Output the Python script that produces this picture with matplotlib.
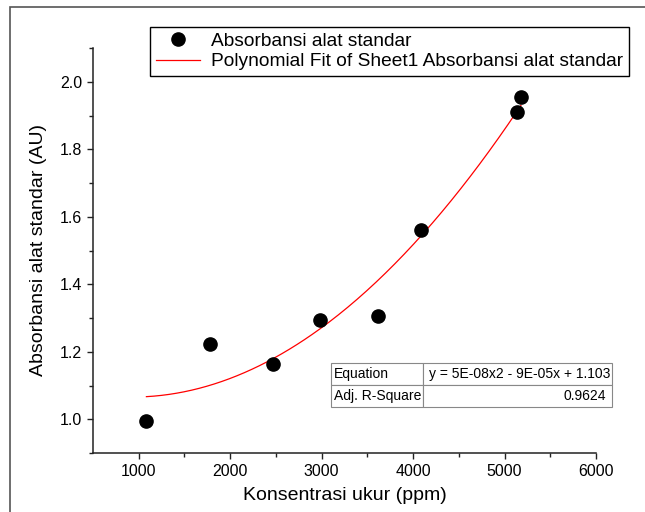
import numpy as np
import matplotlib
matplotlib.use("Agg")
import matplotlib.pyplot as plt
from matplotlib.patches import Rectangle

plt.rcParams['font.family'] = ['Liberation Sans', 'DejaVu Sans']

# data
konsentrasi = [1084, 1777, 2463, 2980, 3611, 4085, 5139, 5179]
absorbansi = [0.995, 1.222, 1.165, 1.295, 1.307, 1.561, 1.909, 1.956]

x_ticks = [1000, 2000, 3000, 4000, 5000, 6000]
y_ticks = [1.0, 1.2, 1.4, 1.6, 1.8, 2.0]

table_rows = [["Equation", "y = 5E-08x2 - 9E-05x + 1.103"],
              ["Adj. R-Square", "0.9624"]]

series_label = "Absorbansi alat standar"
fit_label = "Polynomial Fit of Sheet1 Absorbansi alat standar"

# quadratic fit of the points, like the original software did
coef = np.polyfit(konsentrasi, absorbansi, 2)
xfit = np.linspace(min(konsentrasi), max(konsentrasi), 200)
yfit = np.polyval(coef, xfit)

W, H = 645, 512
fig = plt.figure(figsize=(W / 100, H / 100), dpi=100)
ax = fig.add_axes([93 / W, (H - 453) / H, 503 / W, 405 / H])

ax.plot(konsentrasi, absorbansi, 'o', color='black', markersize=9.5,
        label=series_label, zorder=3)
ax.plot(xfit, yfit, color='red', lw=0.9, label=fit_label, zorder=2)

ax.set_xlim(500, 6000)
ax.set_ylim(0.9, 2.1)
ax.set_xticks(x_ticks)
ax.set_yticks(y_ticks)
ax.set_xticks(np.arange(1500, 6000, 1000), minor=True)
ax.set_yticks(np.arange(0.9, 2.11, 0.2), minor=True)
ax.yaxis.set_major_formatter(plt.FormatStrFormatter('%.1f'))
ax.tick_params(which='major', direction='out', length=4.5, width=1.0,
               labelsize=11.5, color='#222222')
ax.tick_params(which='minor', direction='out', length=3, width=1.0,
               color='#222222')
for s in ['top', 'right']:
    ax.spines[s].set_visible(False)
for s in ['left', 'bottom']:
    ax.spines[s].set_linewidth(1.1)
    ax.spines[s].set_color('#222222')

ax.set_xlabel("Konsentrasi ukur (ppm)", fontsize=14, labelpad=6)
ax.set_ylabel("Absorbansi alat standar (AU)", fontsize=14, labelpad=9)

leg = ax.legend(loc='upper left', bbox_to_anchor=(150 / W, 1 - 27 / H),
                bbox_transform=fig.transFigure, fontsize=13.8,
                fancybox=False, edgecolor='black', framealpha=1,
                borderpad=0.3, labelspacing=0.15, handlelength=2.3,
                handletextpad=0.6, borderaxespad=0)
leg.get_frame().set_linewidth(1.0)

tbl = ax.table(cellText=table_rows, colWidths=[92 / 281, 189 / 281],
               bbox=[(331 - 93) / 503, (453 - 407) / 405,
                     281 / 503, 44 / 405], zorder=5)
tbl.auto_set_font_size(False)
tbl.set_fontsize(10)
for (r, c), cell in tbl.get_celld().items():
    cell.set_edgecolor('#888888')
    cell.set_linewidth(0.8)
    cell.PAD = 0.03
    if r == 1 and c == 1:
        cell._loc = 'right'
        cell.get_text().set_ha('right')
    else:
        cell._loc = 'left'
        cell.get_text().set_ha('left')

# outer frame of the exported page
fig.add_artist(Rectangle((10 / W, -0.2), 1.2, 1.2 - 7 / H,
                         transform=fig.transFigure, fill=False,
                         edgecolor='#555555', lw=1.2))

fig.savefig("out.png", dpi=100)
